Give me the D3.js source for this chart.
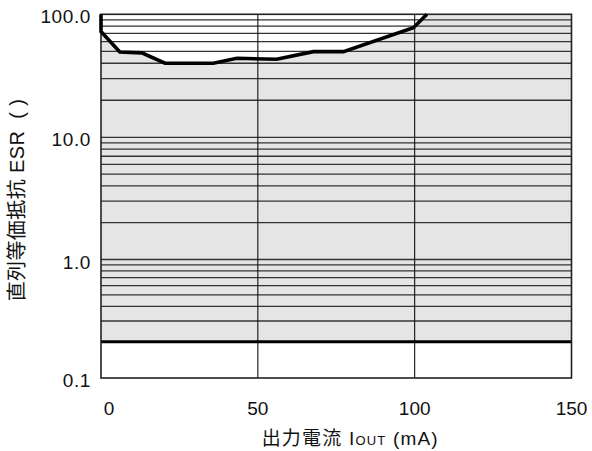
<!DOCTYPE html>
<html>
<head>
<meta charset="utf-8">
<script src="https://cdn.jsdelivr.net/npm/d3@7"></script>
<style>
  html, body { margin: 0; padding: 0; background: #fff; }
  svg { display: block; }
  text { font-family: "Liberation Sans", Arial, "Noto Sans CJK JP", sans-serif; fill: #111; white-space: pre; }
</style>
</head>
<body>
<svg id="chart" width="592" height="451"></svg>
<script>
// ---- data ----
const xTickValues = [0, 50, 100, 150];
const xTickLabels = ["0", "50", "100", "150"];
const yTickValues = [0.1, 1, 10, 100];
const yTickLabels = ["0.1", "1.0", "10.0", "100.0"];
const ioutMA = [0, 0, 6, 13, 20.4, 35.8, 43.3, 56, 67.7, 77.3, 99.6, 103.9];
const esrOhm = [100, 72.5, 49.4, 48.6, 40, 40, 43.9, 43.1, 49.7, 49.7, 77.8, 100];
const esrLowerLimit = 0.2;
const xTitleMain = "出力電流 I";
const xTitleSub = "OUT";
const xTitleEnd = " (mA)";
const yTitle = "直列等価抵抗 ESR  ( )";

// ---- layout ----
const W = 592, H = 451;
const pL = 101, pR = 571.5, pT = 14.3, pB = 378;

const svg = d3.select("#chart");

const x = d3.scaleLinear().domain([0, 150]).range([pL, pR]);
const y = d3.scaleLog()
  .domain([0.1, 0.2, 1, 10, 100])
  .range([pB, 341.7, 259.5, 137.3, pT])
  .clamp(true);

// fill region between lower limit and curve
const fillData = ioutMA.map((v, i) => [v, esrOhm[i]]);
fillData.push([150, 100]);
const area = d3.area()
  .x(d => x(d[0]))
  .y0(y(esrLowerLimit))
  .y1(d => y(d[1]));
svg.append("path")
  .datum(fillData)
  .attr("d", area)
  .attr("fill", "#e5e5e5");

// horizontal grid lines (log minors)
const gridVals = [];
[0.1, 1, 10].forEach(dec => {
  for (let k = 1; k <= 9; k++) {
    const v = +(dec * k).toPrecision(3);
    if (v > esrLowerLimit && v < 100) gridVals.push(v);
  }
});
svg.append("g").selectAll("line")
  .data(gridVals)
  .join("line")
  .attr("x1", pL).attr("x2", pR)
  .attr("y1", d => y(d)).attr("y2", d => y(d))
  .attr("stroke", "#333")
  .attr("stroke-width", 1.3);

// vertical grid lines
svg.append("g").selectAll("line")
  .data(xTickValues.filter(v => v > 0 && v < 150))
  .join("line")
  .attr("x1", d => x(d)).attr("x2", d => x(d))
  .attr("y1", pT).attr("y2", pB)
  .attr("stroke", "#111")
  .attr("stroke-width", 1.1);

// lower limit line
svg.append("line")
  .attr("x1", pL).attr("x2", pR)
  .attr("y1", y(esrLowerLimit)).attr("y2", y(esrLowerLimit))
  .attr("stroke", "#000")
  .attr("stroke-width", 3);

// frame
svg.append("rect")
  .attr("x", pL).attr("y", pT)
  .attr("width", pR - pL).attr("height", pB - pT)
  .attr("fill", "none")
  .attr("stroke", "#222")
  .attr("stroke-width", 1.6);

// curve
const line = d3.line().x(d => x(d[0])).y(d => y(d[1]));
svg.append("path")
  .datum(ioutMA.map((v, i) => [v, esrOhm[i]]))
  .attr("d", line)
  .attr("fill", "none")
  .attr("stroke", "#000")
  .attr("stroke-width", 3.6)
  .attr("stroke-linejoin", "miter");

// y tick labels
svg.append("g").selectAll("text")
  .data(yTickValues)
  .join("text")
  .attr("x", pL - 10)
  .attr("y", d => y(d) + 2.5)
  .attr("dy", "0.35em")
  .attr("text-anchor", "end")
  .style("font-size", "19px")
  .style("letter-spacing", "0.6px")
  .text((d, i) => yTickLabels[i]);

// x tick labels
svg.append("g").selectAll("text")
  .data(xTickValues)
  .join("text")
  .attr("x", d => d === 0 ? x(d) + 8 : x(d))
  .attr("y", 415)
  .attr("text-anchor", "middle")
  .style("font-size", "19px")
  .text((d, i) => xTickLabels[i]);

// x title
const xt = svg.append("text")
  .attr("x", (pL + pR) / 2 + 14)
  .attr("y", 445)
  .attr("text-anchor", "middle")
  .style("font-size", "19px")
  .style("letter-spacing", "1.2px");
xt.append("tspan").text(xTitleMain);
xt.append("tspan").style("font-size", "13px").text(xTitleSub);
xt.append("tspan").text(xTitleEnd);

// y title
svg.append("text")
  .attr("transform", "translate(24,200) rotate(-90)")
  .attr("text-anchor", "middle")
  .style("font-size", "20px")
  .style("letter-spacing", "0.4px")
  .text(yTitle);
</script>
</body>
</html>
